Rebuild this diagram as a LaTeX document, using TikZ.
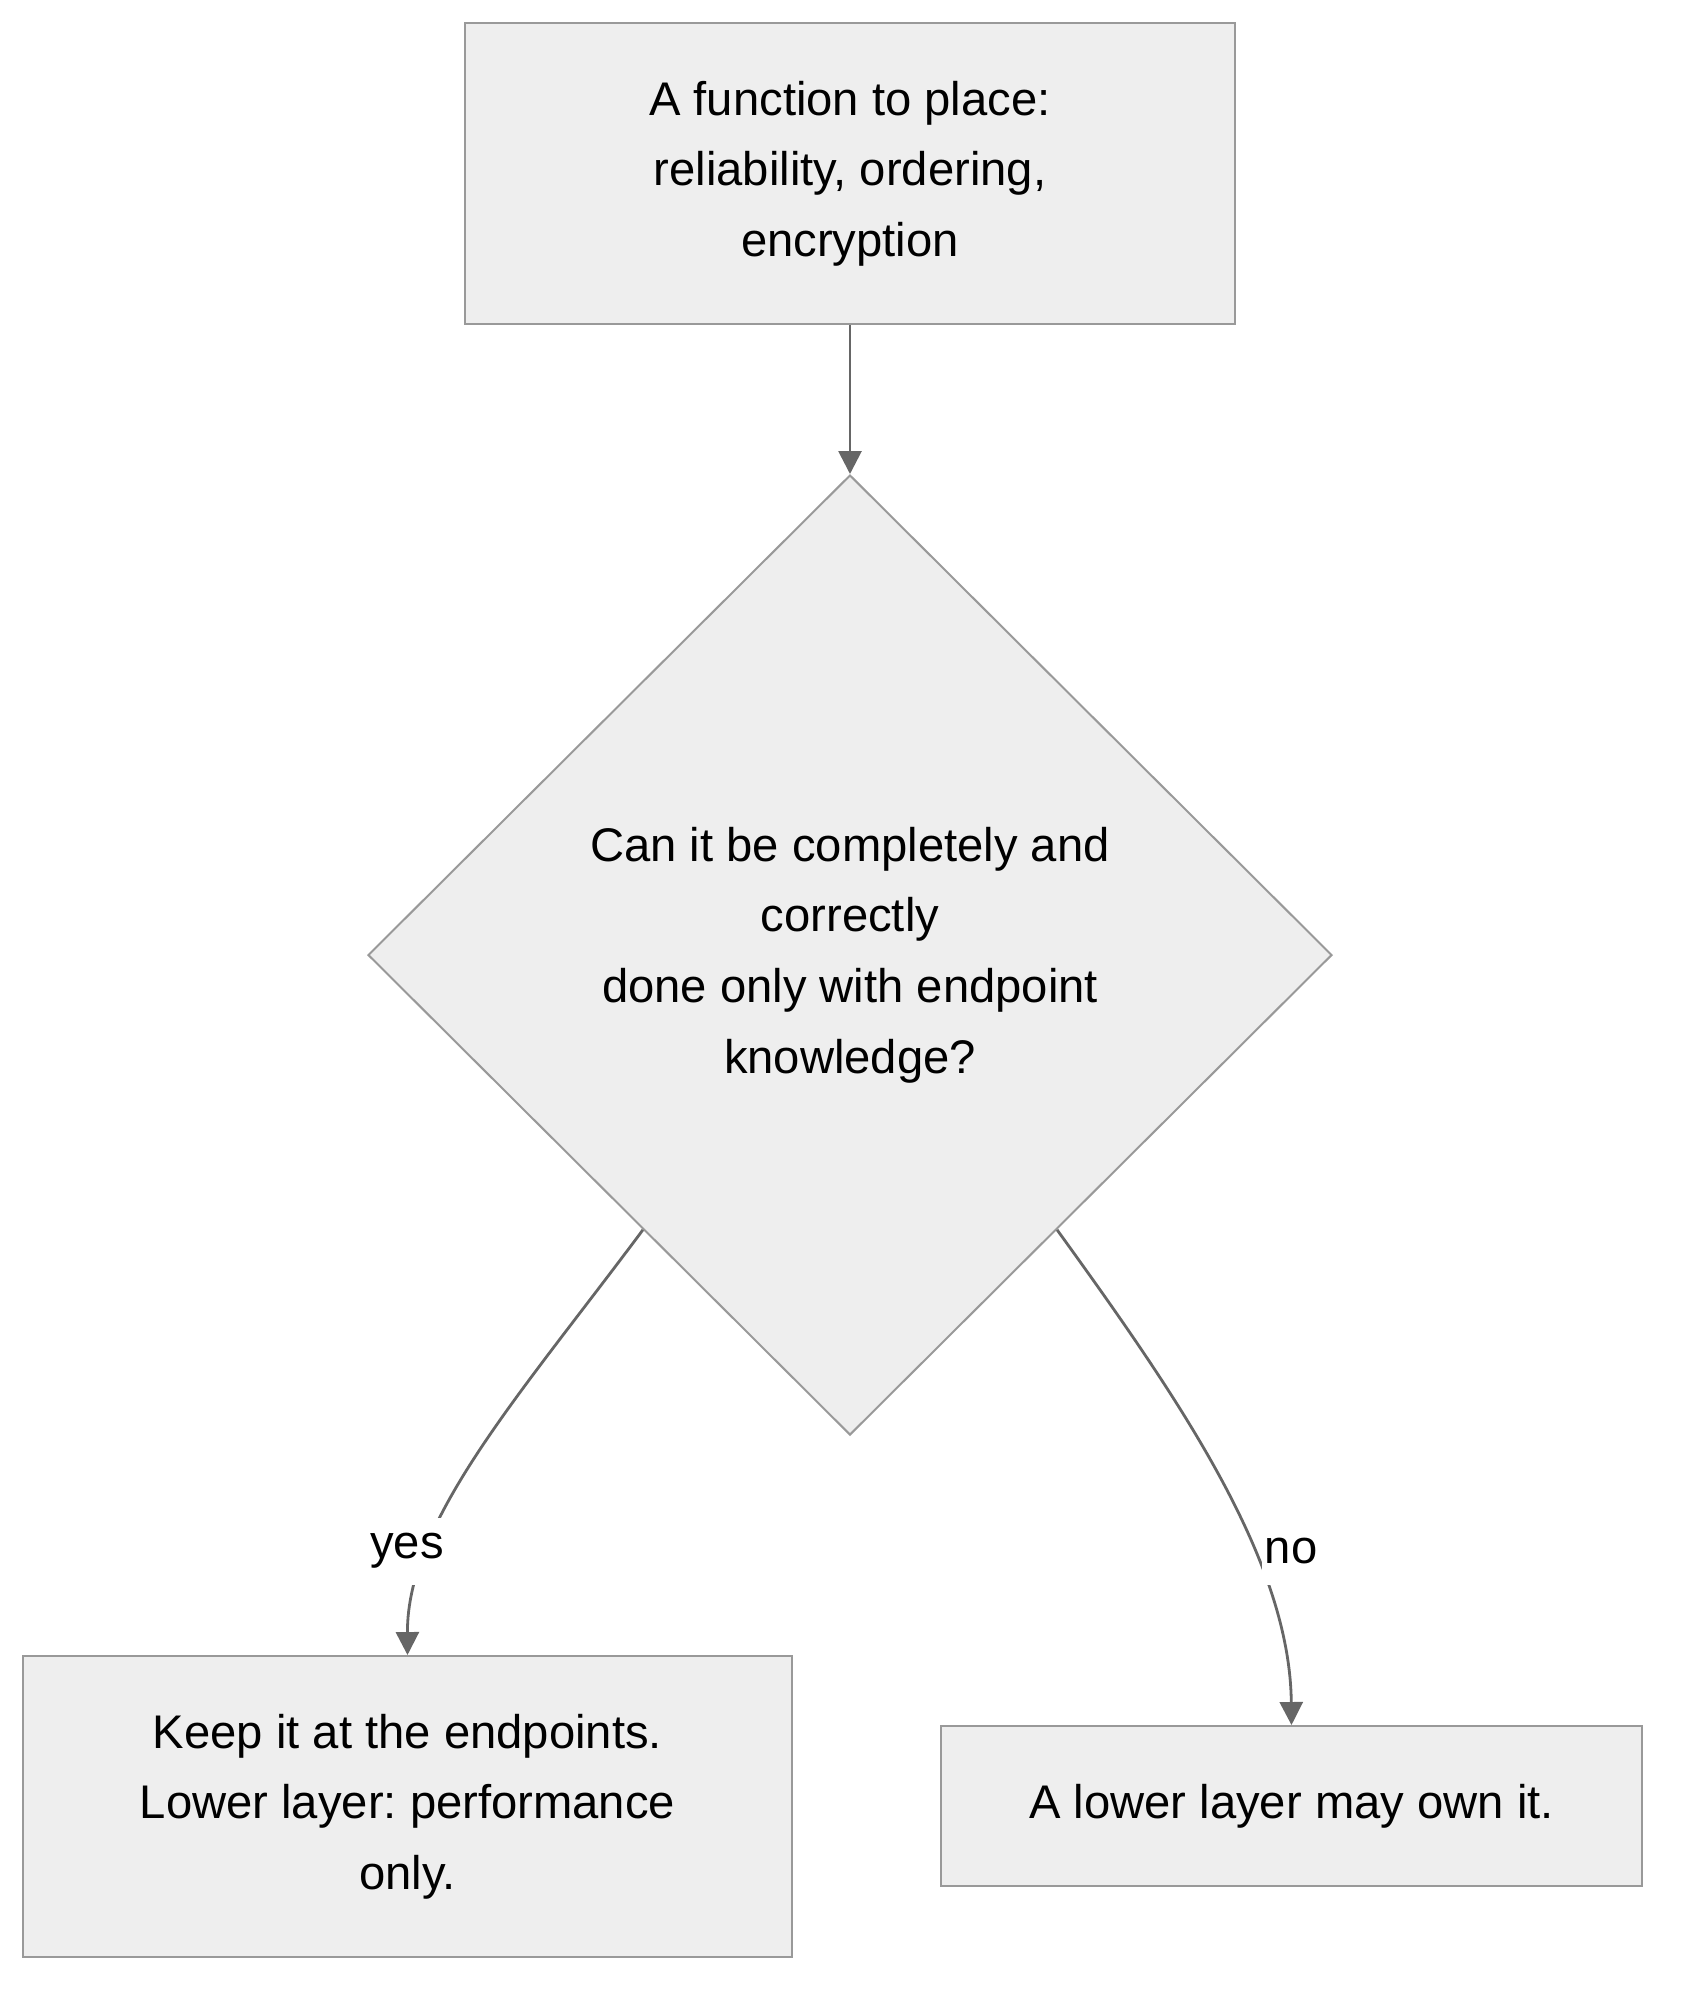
\documentclass[tikz,border=0pt]{standalone}
\usepackage{fontspec}
\setmainfont{Liberation Sans}
\usetikzlibrary{shapes.geometric,arrows.meta}
\frenchspacing
\definecolor{boxfill}{HTML}{EEEEEE}
\definecolor{boxline}{HTML}{999999}
\definecolor{edgeline}{HTML}{666666}
\tikzset{
  flowbox/.style={draw=boxline, fill=boxfill, line width=1pt, align=center, inner sep=0pt},
  decision/.style={flowbox, diamond, aspect=1},
  flowedge/.style={draw=edgeline, line width=1.4pt, -{Triangle[length=11.5pt,width=11.5pt]}},
  edgelabel/.style={fill=white, inner xsep=1.5pt, inner ysep=0pt, minimum height=33.5pt},
}
\begin{document}
\begin{tikzpicture}[x=0.5pt,y=0.5pt,yscale=-1,xscale=1, font=\fontsize{23.6}{35.3}\selectfont]
\useasboundingbox (0,0) rectangle (1689,2010);

%Shape: Rectangle
\node[flowbox, minimum width=385pt, minimum height=150.5pt] (fn) at (850,173.5) {A function to place:\\reliability, ordering,\\encryption};
%Shape: Diamond
\node[decision, minimum width=482pt, minimum height=480pt] (ask) at (850,955) {Can it be completely and\\correctly\\done only with endpoint\\knowledge?};
%Shape: Rectangle
\node[flowbox, minimum width=384.5pt, minimum height=150.5pt] (keep) at (407.5,1806.5) {Keep it at the endpoints.\\Lower layer: performance\\only.};
%Shape: Rectangle
\node[flowbox, minimum width=350.5pt, minimum height=80pt] (lower) at (1291.5,1806) {A lower layer may own it.};

%Straight Lines
\draw[flowedge] (fn.south) -- (ask.north);
%Curve Lines
\draw[flowedge] (ask.233) .. controls (520,1395) and (407,1520) .. (keep.north);
%Curve Lines
\draw[flowedge] (ask.307) .. controls (1180,1400) and (1290,1560) .. (lower.north);

% Text Node
\node[edgelabel] (yes) at (407,1551) {yes};
% Text Node
\node[edgelabel] (no) at (1291,1551) {no};

\end{tikzpicture}
\end{document}
